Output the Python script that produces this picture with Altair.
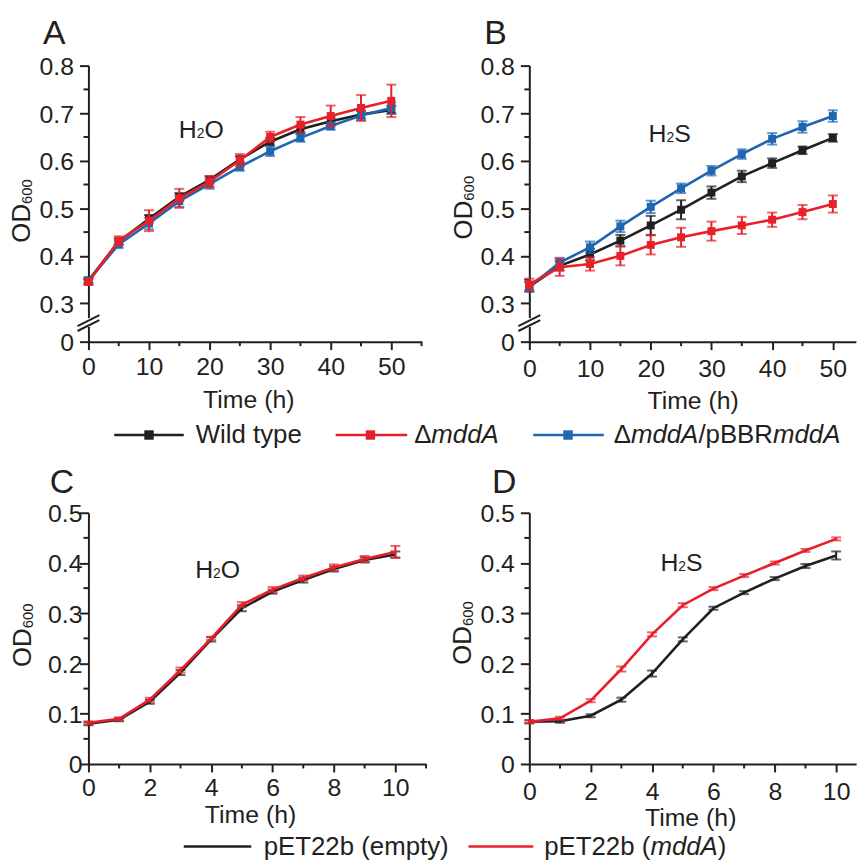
import altair as alt
import pandas as pd

FONT = "Liberation Sans"
INK = "#231f20"
RED = "#e8202a"
BLUE = "#1f66b1"

# ---------------- data ----------------
# Panels A / B : OD600 over 0-50 h
time_ab = [0, 5, 10, 15, 20, 25, 30, 35, 40, 45, 50]
series_ab = ["Wild type", "ΔmddA", "ΔmddA/pBBRmddA"]

a_wt       = [0.348, 0.430, 0.478, 0.524, 0.560, 0.603, 0.640, 0.666, 0.683, 0.697, 0.707]
a_wt_err   = [0.006, 0.006, 0.008, 0.008, 0.007, 0.006, 0.008, 0.008, 0.008, 0.008, 0.008]
a_del      = [0.345, 0.432, 0.474, 0.521, 0.556, 0.601, 0.650, 0.676, 0.694, 0.711, 0.726]
a_del_err  = [0.006, 0.009, 0.022, 0.020, 0.012, 0.013, 0.011, 0.016, 0.022, 0.027, 0.034]
a_comp     = [0.348, 0.424, 0.468, 0.515, 0.551, 0.587, 0.620, 0.648, 0.673, 0.695, 0.711]
a_comp_err = [0.006, 0.007, 0.012, 0.012, 0.010, 0.008, 0.010, 0.008, 0.008, 0.010, 0.012]

b_wt       = [0.335, 0.379, 0.403, 0.432, 0.464, 0.497, 0.533, 0.567, 0.595, 0.622, 0.648]
b_wt_err   = [0.010, 0.010, 0.012, 0.012, 0.020, 0.020, 0.013, 0.012, 0.010, 0.008, 0.008]
b_del      = [0.340, 0.376, 0.383, 0.400, 0.423, 0.439, 0.452, 0.464, 0.476, 0.492, 0.509]
b_del_err  = [0.012, 0.018, 0.014, 0.020, 0.020, 0.020, 0.020, 0.018, 0.015, 0.015, 0.018]
b_comp     = [0.335, 0.386, 0.418, 0.462, 0.503, 0.542, 0.579, 0.614, 0.646, 0.671, 0.694]
b_comp_err = [0.010, 0.010, 0.012, 0.012, 0.013, 0.010, 0.010, 0.010, 0.012, 0.012, 0.012]

# Panels C / D : OD600 over 0-10 h
time_cd = [0, 1, 2, 3, 4, 5, 6, 7, 8, 9, 10]
series_cd = ["pET22b (empty)", "pET22b (mddA)"]

c_empty     = [0.080, 0.088, 0.124, 0.182, 0.248, 0.310, 0.343, 0.366, 0.388, 0.406, 0.417]
c_empty_err = [0.003, 0.003, 0.004, 0.005, 0.004, 0.006, 0.004, 0.005, 0.005, 0.005, 0.006]
c_mdda      = [0.082, 0.090, 0.128, 0.187, 0.250, 0.317, 0.347, 0.370, 0.391, 0.408, 0.422]
c_mdda_err  = [0.003, 0.003, 0.004, 0.005, 0.003, 0.005, 0.005, 0.005, 0.006, 0.006, 0.012]

d_empty     = [0.084, 0.085, 0.096, 0.128, 0.180, 0.248, 0.310, 0.341, 0.369, 0.394, 0.415]
d_empty_err = [0.003, 0.003, 0.003, 0.004, 0.006, 0.004, 0.003, 0.003, 0.003, 0.004, 0.008]
d_mdda      = [0.084, 0.091, 0.126, 0.189, 0.258, 0.316, 0.349, 0.375, 0.400, 0.425, 0.448]
d_mdda_err  = [0.003, 0.003, 0.003, 0.005, 0.004, 0.004, 0.003, 0.003, 0.003, 0.003, 0.003]

# axis ticks (major = labelled, minor = short unlabelled)
x_major_ab = [0, 10, 20, 30, 40, 50]
x_minor_a = [5, 15, 25, 35, 45, 55]
x_minor_b = [5, 15, 25, 35, 45]
x_major_cd = [0, 2, 4, 6, 8, 10]
x_minor_c = [1, 3, 5, 7, 9, 11]
x_minor_d = [1, 3, 5, 7, 9]
Y_BREAK = 0.2196  # bottom of the broken axis, labelled "0"
y_major_ab = [Y_BREAK, 0.3, 0.4, 0.5, 0.6, 0.7, 0.8]
y_minor_ab = [0.35, 0.45, 0.55, 0.65, 0.75]
y_major_cd = [0, 0.1, 0.2, 0.3, 0.4, 0.5]
y_minor_cd = [0.05, 0.15, 0.25, 0.35, 0.45]

# ---------------- helpers ----------------
EM = {"A": 0.667, "B": 0.667, "D": 0.722, "E": 0.667, "H": 0.722, "O": 0.778,
      "R": 0.722, "S": 0.667, "T": 0.611, "W": 0.944, "b": 0.556, "d": 0.556,
      "e": 0.556, "i": 0.222, "l": 0.222, "m": 0.833, "p": 0.556, "t": 0.278,
      "y": 0.5, " ": 0.278, "(": 0.333, ")": 0.333, "/": 0.278, "0": 0.556,
      "2": 0.556, "6": 0.556, "Δ": 0.667}


def tw(s, size):
    return sum(EM.get(c, 0.556) for c in s) * size


ONE = pd.DataFrame({"k": [0]})


def txt(s, x, y, size, style="normal", angle=0, color=INK):
    return alt.Chart(ONE).mark_text(
        text=s, font=FONT, fontSize=size, fontStyle=style, color=color,
        align="left", baseline="alphabetic", angle=angle,
    ).encode(x=alt.value(x), y=alt.value(y))


def rich(pieces, x, y, size):
    out = []
    for s, style in pieces:
        out.append(txt(s, x, y, size, style))
        x += tw(s, size)
    return out


def seg(x1, y1, x2, y2, color=INK, w=2, opacity=1):
    return alt.Chart(ONE).mark_rule(color=color, strokeWidth=w, opacity=opacity).encode(
        x=alt.value(x1), y=alt.value(y1), x2=alt.value(x2), y2=alt.value(y2))


def sq(x, y, color):
    return alt.Chart(ONE).mark_square(color=color, size=90, opacity=1).encode(
        x=alt.value(x), y=alt.value(y))


def subscript_label(x0, y0, a, sub, b):
    return [txt(a, x0, y0, 25), txt(sub, x0 + tw(a, 25), y0, 14),
            txt(b, x0 + tw(a, 25) + tw(sub, 14), y0, 25)]


def od_title(xb, ystart):
    return [txt("OD", xb, ystart, 26, angle=270),
            txt("600", xb + 1.5, ystart - tw("OD", 26), 15, angle=270)]


def panel(time, names, colors, vals, errs, xdom, xmajor, xminor, ydom, ymajor, yminor,
          zero_cut, width, height, markers, title_x, title_y, xpad, ypad, extra):
    rows = []
    for name, vv, ee in zip(names, vals, errs):
        for t, v, e in zip(time, vv, ee):
            rows.append({"t": t, "v": v, "lo": v - e, "hi": v + e, "s": name})
    df = pd.DataFrame(rows)
    xs = alt.Scale(domain=xdom, nice=False, zero=False)
    ys = alt.Scale(domain=ydom, nice=False, zero=False)
    x_axis = alt.Axis(
        values=xmajor, tickSize=8, labelPadding=xpad, labelFlush=False, labelOverlap=False,
        title="Time (h)", titleX=title_x, titleY=title_y, titleBaseline="alphabetic",
    )
    y_axis = alt.Axis(
        values=ymajor,
        labelExpr=f"datum.value < {zero_cut} ? '0' : format(datum.value, '.1f')",
        tickSize=9, labelPadding=ypad, labelOffset=1, labelFlush=False, labelOverlap=False,
        title="",
    )

    def X(f):
        return alt.X(f"{f}:Q", scale=xs, axis=x_axis)

    def Y(f):
        return alt.Y(f"{f}:Q", scale=ys, axis=y_axis)

    layers = [
        alt.Chart(pd.DataFrame({"m": xminor})).mark_rule(color=INK, strokeWidth=2).encode(
            x=X("m"), y=alt.value(height), y2=alt.value(height + 4.5)),
        alt.Chart(pd.DataFrame({"m": yminor})).mark_rule(color=INK, strokeWidth=2).encode(
            y=Y("m"), x=alt.value(-5), x2=alt.value(0)),
    ]
    for name, col in zip(names, colors):
        base = alt.Chart(df[df["s"] == name])
        layers.append(base.mark_line(color=col, strokeWidth=2.6).encode(x=X("t"), y=Y("v")))
        layers.append(base.mark_rule(color=col, strokeWidth=2).encode(
            x=X("t"), y=Y("lo"), y2="hi:Q"))
        for f in ("lo", "hi"):
            layers.append(base.mark_tick(color=col, orient="horizontal", size=10, thickness=2).encode(
                x=X("t"), y=Y(f)))
        if markers:
            layers.append(base.mark_square(color=col, size=64, opacity=1).encode(x=X("t"), y=Y("v")))
    layers += extra
    return alt.layer(*layers).properties(width=width, height=height)


def break_marks(height, ydom):
    y03 = (ydom[1] - 0.3) / (ydom[1] - ydom[0]) * height
    c = (y03 + height) / 2
    return [seg(0, c - 4.5, 0, c + 4.5, color="white", w=5),
            seg(-11, c - 2 + 5.5, 11, c - 2 - 5.5, w=2),
            seg(-11, c + 3 + 5.5, 11, c + 3 - 5.5, w=2)]


H_AB, H_CD = 278, 253
YD_AB = [Y_BREAK, 0.8]
YD_CD = [0, 0.5]

# legend 1 (below A/B), in panel A pixel coords
LY, TB = 372, 379.7
legend1 = [seg(26, LY, 96, LY, INK, 2.5), sq(61, LY, INK), txt("Wild type", 108, TB, 26),
           seg(249, LY, 321, LY, RED, 2.5), sq(284, LY, RED)]
legend1 += rich([("Δ", "normal"), ("mddA", "italic")], 328, TB, 26)
legend1 += [seg(448, LY, 519, LY, BLUE, 2.5), sq(483, LY, BLUE)]
legend1 += rich([("Δ", "normal"), ("mddA", "italic"), ("/pBBR", "normal"), ("mddA", "italic")], 529, TB, 26)

# legend 2 (bottom), in panel C pixel coords
LY2, TB2 = 336, 345
legend2 = [seg(96, LY2, 164, LY2, INK, 2.5), txt("pET22b (empty)", 176.5, TB2, 26),
           seg(382.7, LY2, 448, LY2, RED, 2.5)]
legend2 += rich([("pET22b (", "normal"), ("mddA", "italic"), (")", "normal")], 459, TB2, 26)

anchor = [seg(-81, -55, -80.5, -55, w=1, opacity=0)]

extra_a = (anchor + [txt("A", -45.7, -21.3, 34)] + subscript_label(91, 73, "H", "2", "O")
           + od_title(-58.5, 178.3) + break_marks(H_AB, YD_AB) + legend1)
extra_b = ([txt("B", -45.5, -21.3, 34)] + subscript_label(120, 77, "H", "2", "S")
           + od_title(-57.5, 175) + break_marks(H_AB, YD_AB))
extra_c = ([txt("C", -39, -20, 34)] + subscript_label(107.5, 66, "H", "2", "O")
           + od_title(-57.5, 155.4) + legend2)
extra_d = ([txt("D", -37.5, -20, 34)] + subscript_label(132, 58.4, "H", "2", "S")
           + od_title(-58.5, 153.1))

order_ab = [series_ab[0], series_ab[2], series_ab[1]]
pA = panel(time_ab, order_ab, [INK, BLUE, RED],
           [a_wt, a_comp, a_del], [a_wt_err, a_comp_err, a_del_err],
           [0, 55], x_major_ab, x_minor_a, YD_AB, y_major_ab, y_minor_ab, 0.25,
           335.5, H_AB, True, 161, 66, 5, 6, extra_a)
pB = panel(time_ab, order_ab, [INK, BLUE, RED],
           [b_wt, b_comp, b_del], [b_wt_err, b_comp_err, b_del_err],
           [0, 53.8], x_major_ab, x_minor_b, YD_AB, y_major_ab, y_minor_ab, 0.25,
           328.9, H_AB, True, 164.5, 67.5, 7, 6, extra_b)
pC = panel(time_cd, series_cd, [INK, RED],
           [c_empty, c_mdda], [c_empty_err, c_mdda_err],
           [0, 11], x_major_cd, x_minor_c, YD_CD, y_major_cd, y_minor_cd, 0.01,
           340, H_CD, False, 162.7, 59, 4, -2.5, extra_c)
pD = panel(time_cd, series_cd, [INK, RED],
           [d_empty, d_mdda], [d_empty_err, d_mdda_err],
           [0, 10.65], x_major_cd, x_minor_d, YD_CD, y_major_cd, y_minor_cd, 0.01,
           329.1, H_CD, False, 162, 61.6, 8, 6, extra_d)

chart = alt.concat(
    pA, pB, pC, pD, columns=2,
    spacing={"row": 172.3, "column": 104}, bounds="flush",
).properties(padding=0).configure(font=FONT).configure_view(stroke=None).configure_axis(
    labelFont=FONT, titleFont=FONT, labelFontSize=25, titleFontSize=25,
    titleFontWeight="normal", labelColor=INK, titleColor=INK,
    domainColor=INK, tickColor=INK, domainWidth=2, tickWidth=2, grid=False,
)

chart.save("out.html", embed_options={"renderer": "svg", "actions": False})
